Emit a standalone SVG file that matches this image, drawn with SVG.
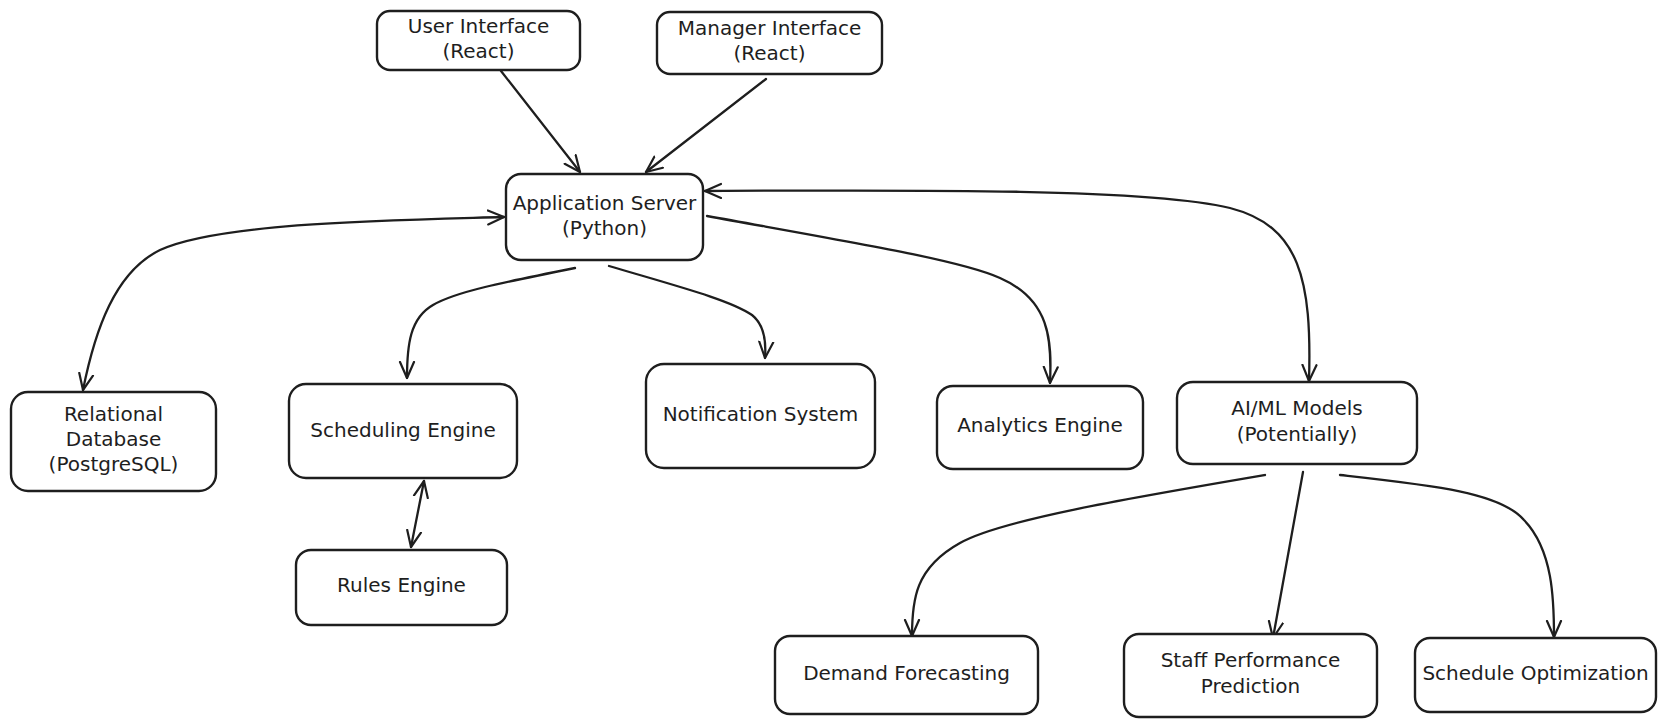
<svg xmlns="http://www.w3.org/2000/svg" width="1667" height="727" viewBox="0 0 1667 727">
<style>
.box{fill:#ffffff;stroke:#1e1e1e;stroke-width:2.4}
.lbl{font-family:"DejaVu Sans",sans-serif;font-size:20px;fill:#1e1e1e;text-anchor:middle}
.edge{fill:none;stroke:#1e1e1e;stroke-width:2.3;stroke-linecap:round}
</style>
<defs>
<marker id="arr" viewBox="0 0 18 18" refX="17" refY="9" markerWidth="18" markerHeight="18" markerUnits="userSpaceOnUse" orient="auto-start-reverse">
<path d="M1,2 L17,9 L1,16" fill="none" stroke="#1e1e1e" stroke-width="2.2" stroke-linecap="round" stroke-linejoin="round"/>
</marker>
</defs>
<rect width="1667" height="727" fill="#ffffff"/>
<g id="connectors">
<path class="edge" d="M501 71 L580 172" marker-end="url(#arr)"/>
<path class="edge" d="M766 79 L646 172" marker-end="url(#arr)"/>
<path class="edge" d="M504 217 C400 220 220 222 160 250 C115 272 95 330 83 390" marker-start="url(#arr)" marker-end="url(#arr)"/>
<path class="edge" d="M575 268 C500 283 455 292 433 305 C410 318 407 345 407 378" marker-end="url(#arr)"/>
<path class="edge" d="M609 266 C680 287 730 300 752 315 C766 326 766 345 765 358" marker-end="url(#arr)"/>
<path class="edge" d="M707 216 C850 242 960 260 1000 278 C1050 300 1052 340 1050 383" marker-end="url(#arr)"/>
<path class="edge" d="M705 191 C900 190 1150 188 1230 208 C1300 226 1312 280 1309 381" marker-start="url(#arr)" marker-end="url(#arr)"/>
<path class="edge" d="M424 481 L411 547" marker-start="url(#arr)" marker-end="url(#arr)"/>
<path class="edge" d="M1265 475 C1130 498 1000 520 960 543 C915 568 912 600 912 636" marker-end="url(#arr)"/>
<path class="edge" d="M1303 472 L1273 638" marker-end="url(#arr)"/>
<path class="edge" d="M1340 475 C1430 485 1500 492 1524 520 C1553 550 1554 600 1554 637" marker-end="url(#arr)"/>
</g>
<g id="user-interface">
<rect class="box" x="377" y="11" width="203" height="59" rx="13"/>
<text class="lbl" x="478.5" y="33">User Interface</text>
<text class="lbl" x="478.5" y="58">(React)</text>
</g>
<g id="manager-interface">
<rect class="box" x="657" y="12" width="225" height="62" rx="13"/>
<text class="lbl" x="769.5" y="35">Manager Interface</text>
<text class="lbl" x="769.5" y="60">(React)</text>
</g>
<g id="application-server">
<rect class="box" x="506" y="174" width="197" height="86" rx="15"/>
<text class="lbl" x="604.5" y="210">Application Server</text>
<text class="lbl" x="604.5" y="235">(Python)</text>
</g>
<g id="relational-database">
<rect class="box" x="11" y="392" width="205" height="99" rx="17"/>
<text class="lbl" x="113.5" y="421">Relational</text>
<text class="lbl" x="113.5" y="446">Database</text>
<text class="lbl" x="113.5" y="471">(PostgreSQL)</text>
</g>
<g id="scheduling-engine">
<rect class="box" x="289" y="384" width="228" height="94" rx="17"/>
<text class="lbl" x="403" y="436.5">Scheduling Engine</text>
</g>
<g id="rules-engine">
<rect class="box" x="296" y="550" width="211" height="75" rx="15"/>
<text class="lbl" x="401.5" y="592">Rules Engine</text>
</g>
<g id="notification-system">
<rect class="box" x="646" y="364" width="229" height="104" rx="18"/>
<text class="lbl" x="760.5" y="420.5">Notification System</text>
</g>
<g id="analytics-engine">
<rect class="box" x="937" y="386" width="206" height="83" rx="16"/>
<text class="lbl" x="1040" y="432">Analytics Engine</text>
</g>
<g id="ai-ml-models">
<rect class="box" x="1177" y="382" width="240" height="82" rx="16"/>
<text class="lbl" x="1297" y="415">AI/ML Models</text>
<text class="lbl" x="1297" y="441">(Potentially)</text>
</g>
<g id="demand-forecasting">
<rect class="box" x="775" y="636" width="263" height="78" rx="15"/>
<text class="lbl" x="906.5" y="680">Demand Forecasting</text>
</g>
<g id="staff-performance-prediction">
<rect class="box" x="1124" y="634" width="253" height="83" rx="15"/>
<text class="lbl" x="1250.5" y="667">Staff Performance</text>
<text class="lbl" x="1250.5" y="693">Prediction</text>
</g>
<g id="schedule-optimization">
<rect class="box" x="1415" y="638" width="241" height="74" rx="15"/>
<text class="lbl" x="1535.5" y="680">Schedule Optimization</text>
</g>
</svg>
